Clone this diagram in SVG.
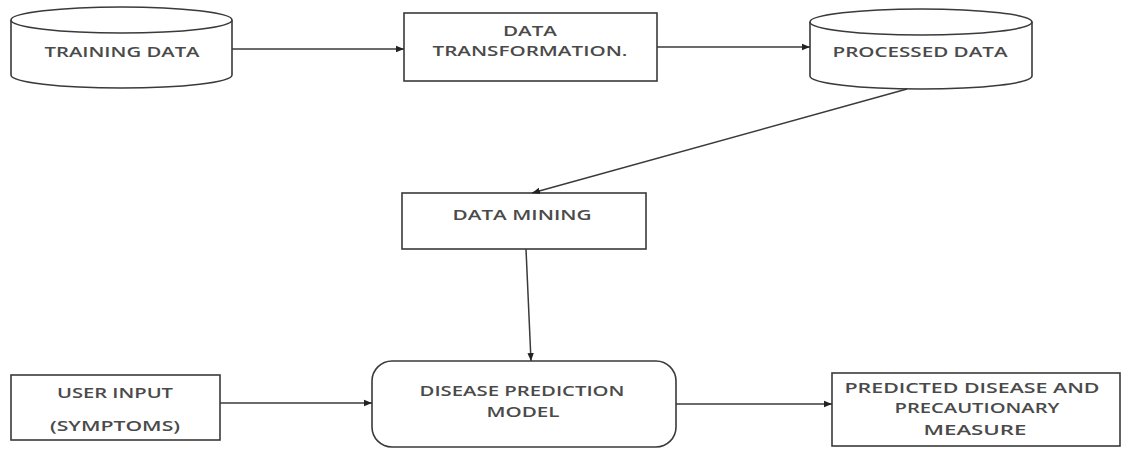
<svg xmlns="http://www.w3.org/2000/svg" width="1121" height="450" viewBox="0 0 1121 450">
<style>
.shape{fill:#fff;stroke:#3a3a3a;stroke-width:1.6}
.conn{fill:none;stroke:#3a3a3a;stroke-width:1.5}
.lbl{font-family:"Open Sans","Liberation Sans",sans-serif;font-size:14px;font-weight:600;fill:#4a4a4a;text-anchor:middle}
</style>
<defs>
<marker id="arr" viewBox="0 0 10 10" refX="10" refY="5" markerWidth="8" markerHeight="8" markerUnits="userSpaceOnUse" orient="auto">
<path d="M0,1 L10,5 L0,9 Z" fill="#222"/>
</marker>
</defs>
<rect width="1121" height="450" fill="#fff"/>
<g id="training-data">
<path class="shape" d="M11,20 L11,75 A110.5,13 0 0 0 232,75 L232,20"/>
<ellipse class="shape" cx="121.5" cy="20" rx="110.5" ry="13"/>
<text class="lbl" x="122" y="57" textLength="155" lengthAdjust="spacingAndGlyphs">TRAINING DATA</text>
</g>
<g id="data-transformation">
<rect class="shape" x="404" y="13" width="253" height="68"/>
<text class="lbl" x="530" y="36" textLength="54" lengthAdjust="spacingAndGlyphs">DATA</text>
<text class="lbl" x="530" y="56" textLength="195" lengthAdjust="spacingAndGlyphs">TRANSFORMATION.</text>
</g>
<g id="processed-data">
<path class="shape" d="M810,22 L810,76 A111,13 0 0 0 1032,76 L1032,22"/>
<ellipse class="shape" cx="921" cy="22" rx="111" ry="13"/>
<text class="lbl" x="920" y="57" textLength="175" lengthAdjust="spacingAndGlyphs">PROCESSED DATA</text>
</g>
<g id="data-mining">
<rect class="shape" x="402" y="193" width="244" height="56"/>
<text class="lbl" x="522" y="220" textLength="139" lengthAdjust="spacingAndGlyphs">DATA MINING</text>
</g>
<g id="user-input">
<rect class="shape" x="11" y="375" width="209" height="65"/>
<text class="lbl" x="115" y="398" textLength="116" lengthAdjust="spacingAndGlyphs">USER INPUT</text>
<text class="lbl" x="115" y="431" textLength="130" lengthAdjust="spacingAndGlyphs">(SYMPTOMS)</text>
</g>
<g id="disease-prediction-model">
<rect class="shape" x="372" y="361" width="304" height="86" rx="20" ry="20"/>
<text class="lbl" x="522" y="396" textLength="205" lengthAdjust="spacingAndGlyphs">DISEASE PREDICTION</text>
<text class="lbl" x="523" y="417" textLength="73" lengthAdjust="spacingAndGlyphs">MODEL</text>
</g>
<g id="predicted-disease">
<rect class="shape" x="832" y="373" width="288" height="73"/>
<text class="lbl" x="972" y="393" textLength="255" lengthAdjust="spacingAndGlyphs">PREDICTED DISEASE AND</text>
<text class="lbl" x="977" y="413" textLength="165" lengthAdjust="spacingAndGlyphs">PRECAUTIONARY</text>
<text class="lbl" x="975" y="435" textLength="103" lengthAdjust="spacingAndGlyphs">MEASURE</text>
</g>
<g id="connectors">
<line class="conn" x1="232" y1="49" x2="404" y2="49" marker-end="url(#arr)"/>
<line class="conn" x1="657" y1="47" x2="810" y2="47" marker-end="url(#arr)"/>
<line class="conn" x1="907" y1="89" x2="532" y2="193" marker-end="url(#arr)"/>
<line class="conn" x1="526" y1="249" x2="531" y2="361" marker-end="url(#arr)"/>
<line class="conn" x1="220" y1="403" x2="372" y2="403" marker-end="url(#arr)"/>
<line class="conn" x1="676" y1="404" x2="832" y2="404" marker-end="url(#arr)"/>
</g>
</svg>
